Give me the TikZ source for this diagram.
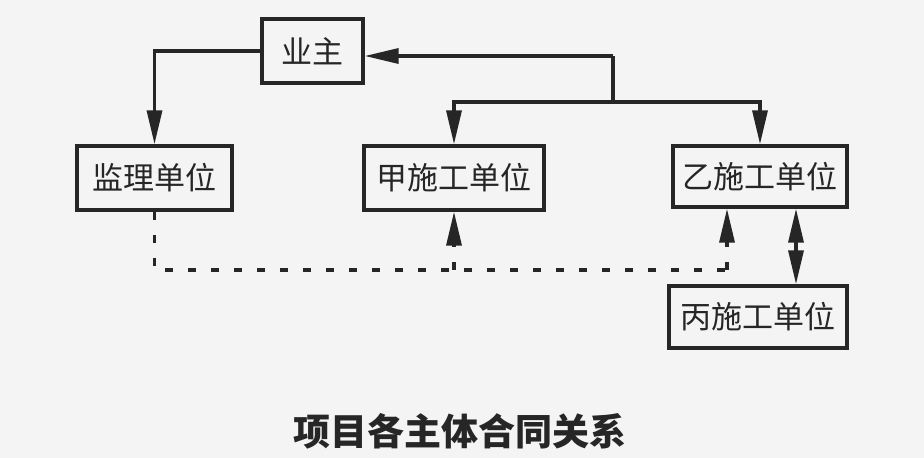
\documentclass[tikz,border=0pt]{standalone}
\usepackage{fontspec}
\setmainfont{Noto Sans CJK SC}
\usetikzlibrary{arrows.meta}

\begin{document}
\begin{tikzpicture}[x=0.5pt, y=-0.5pt,
  unit/.style={draw=black!85, line width=1.7pt, inner sep=0pt, text=black!85,
    font=\fontsize{15.5}{18}\selectfont},
  link/.style={draw=black!85, line width=1.7pt, -{Triangle[length=17pt, width=7.5pt]}},
  deal/.style={link, dash pattern=on 4pt off 7.5pt}]

\fill[gray!9] (0,0) rectangle (924,458);
\useasboundingbox (0,0) rectangle (924,458);

\node[unit, minimum width=50.5pt, minimum height=32pt] (owner) at (312.5,51) {业主};

\node[unit, minimum width=77.5pt, minimum height=32pt] (supervisor) at (154.5,178) {监理单位};

\node[unit, minimum width=90pt, minimum height=32pt] (conA) at (454,178) {甲施工单位};

\node[unit, minimum width=87pt, minimum height=30.5pt] (conB) at (760,176.5) {乙施工单位};

\node[unit, minimum width=89pt, minimum height=31pt] (conC) at (758,317) {丙施工单位};

\node[text=black!85, font=\fontsize{18.5}{22}\bfseries\selectfont] (title) at (460,431) {项目各主体合同关系};

\coordinate (split) at (613,56);
\coordinate (fork) at (613,102);
\coordinate (meet) at (727,270);

\draw[link] (owner.west) -| (supervisor.north);
\draw[link] (split) -- (split -| owner.east);
\draw[link, -] (split) -- (fork);
\draw[link] (fork) -| (conA.north);
\draw[link] (fork) -| (conB.north);

\draw[deal, -] (supervisor.south) |- (meet);
\draw[deal] (meet) -- (meet |- conB.south);
\draw[deal] (conA.south |- meet) -- (conA.south);

\draw[link, {Triangle[length=17pt, width=7.5pt]}-{Triangle[length=17pt, width=7.5pt]}]
  ([xshift=18pt]conB.south) -- ([xshift=18pt]conB.south |- conC.north);

\end{tikzpicture}
\end{document}
